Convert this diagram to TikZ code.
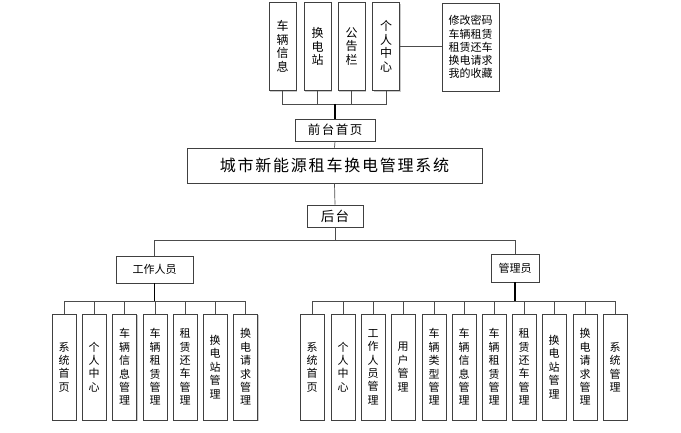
\documentclass[tikz,border=0pt]{standalone}
\usepackage{fontspec}
\setmainfont{Noto Sans CJK SC}
\usetikzlibrary{shadows}
\begin{document}
\begin{tikzpicture}[x=1pt,y=-1pt,
  box/.style={draw=black!75, line width=0.7pt, fill=white, inner sep=0pt, align=center,
    drop shadow={shadow xshift=1.2pt, shadow yshift=-1.2pt, fill=black!30, opacity=0.7}},
  vbox/.style={box, minimum width=24pt, minimum height=106pt, font=\fontsize{11}{13.4}\selectfont},
  tbox/.style={box, minimum width=27pt, minimum height=88pt, font=\fontsize{12}{13.6}\selectfont},
  link/.style={draw=black!70, line width=0.7pt},
  trunk/.style={draw=black, line width=1.1pt}]
\useasboundingbox (0,0) rectangle (681,433);
% top boxes
\node[tbox] (t1) at (282.5,46.5) {车\\辆\\信\\息};
\node[tbox] (t2) at (317.5,46.5) {换\\电\\站};
\node[tbox] (t3) at (351.5,46.5) {公\\告\\栏};
\node[tbox] (t4) at (386,46.5) {个\\人\\中\\心};
\node[box, minimum width=57pt, minimum height=88pt, font=\fontsize{11}{13.2}\selectfont] (rb) at (470.5,47) {修改密码\\车辆租赁\\租赁还车\\换电请求\\我的收藏};
\draw[link] (t4.east) -- (t4.east -| rb.west);
\coordinate (tbus) at (335,104);
\foreach \n in {t1,t2,t3,t4} \draw[link] (\n.south) |- (tbus);
% front page
\node[box, minimum width=80pt, minimum height=22pt, font=\fontsize{12.5}{14}\selectfont\addfontfeature{LetterSpace=12}] (qt) at (335,130) {前台首页};
\draw[trunk] (tbus) -- (qt.north);
% main
\node[box, minimum width=295pt, minimum height=35pt, font=\fontsize{16}{18}\selectfont\addfontfeature{LetterSpace=11}] (main) at (334.5,165.5) {城市新能源租车换电管理系统};
\draw[link] (qt.south) -- (main.north);
\node[box, minimum width=56pt, minimum height=22pt, font=\fontsize{13.5}{15}\selectfont\addfontfeature{LetterSpace=8}] (ht) at (335,216) {后台};
\draw[link] (main.south) -- (ht.north);
\coordinate (hbus) at (335,240);
\draw[link] (ht.south) -- (hbus);
% second level
\node[box, minimum width=77pt, minimum height=27pt, font=\fontsize{11}{13}\selectfont] (wk) at (154.5,269.5) {工作人员};
\node[box, minimum width=48pt, minimum height=28pt, font=\fontsize{11}{13}\selectfont] (gl) at (515,268) {管理员};
\draw[link] (hbus) -| (wk.north);
\draw[link] (hbus) -| (gl.north);
% staff children
\coordinate (wbus) at (154.5,301);
\draw[trunk] (wk.south) -- (wbus);
\foreach \x/\t [count=\i] in {64/{系\\统\\首\\页},94/{个\\人\\中\\心},124.5/{车\\辆\\信\\息\\管\\理},155/{车\\辆\\租\\赁\\管\\理},185/{租\\赁\\还\\车\\管\\理},215/{换\\电\\站\\管\\理},245.5/{换\\电\\请\\求\\管\\理}}{
  \node[vbox] (w\i) at (\x,367) {\t};
  \draw[link] (wbus) -| (w\i.north);
}
% admin children
\coordinate (gbus) at (515,301);
\draw[trunk] (gl.south) -- (gbus);
\foreach \x/\t [count=\i] in {312/{系\\统\\首\\页},343/{个\\人\\中\\心},373/{工\\作\\人\\员\\管\\理},403/{用\\户\\管\\理},434/{车\\辆\\类\\型\\管\\理},464/{车\\辆\\信\\息\\管\\理},494/{车\\辆\\租\\赁\\管\\理},524/{租\\赁\\还\\车\\管\\理},554/{换\\电\\站\\管\\理},585/{换\\电\\请\\求\\管\\理},615/{系\\统\\管\\理}}{
  \node[vbox] (g\i) at (\x,367) {\t};
  \draw[link] (gbus) -| (g\i.north);
}
\end{tikzpicture}
\end{document}
